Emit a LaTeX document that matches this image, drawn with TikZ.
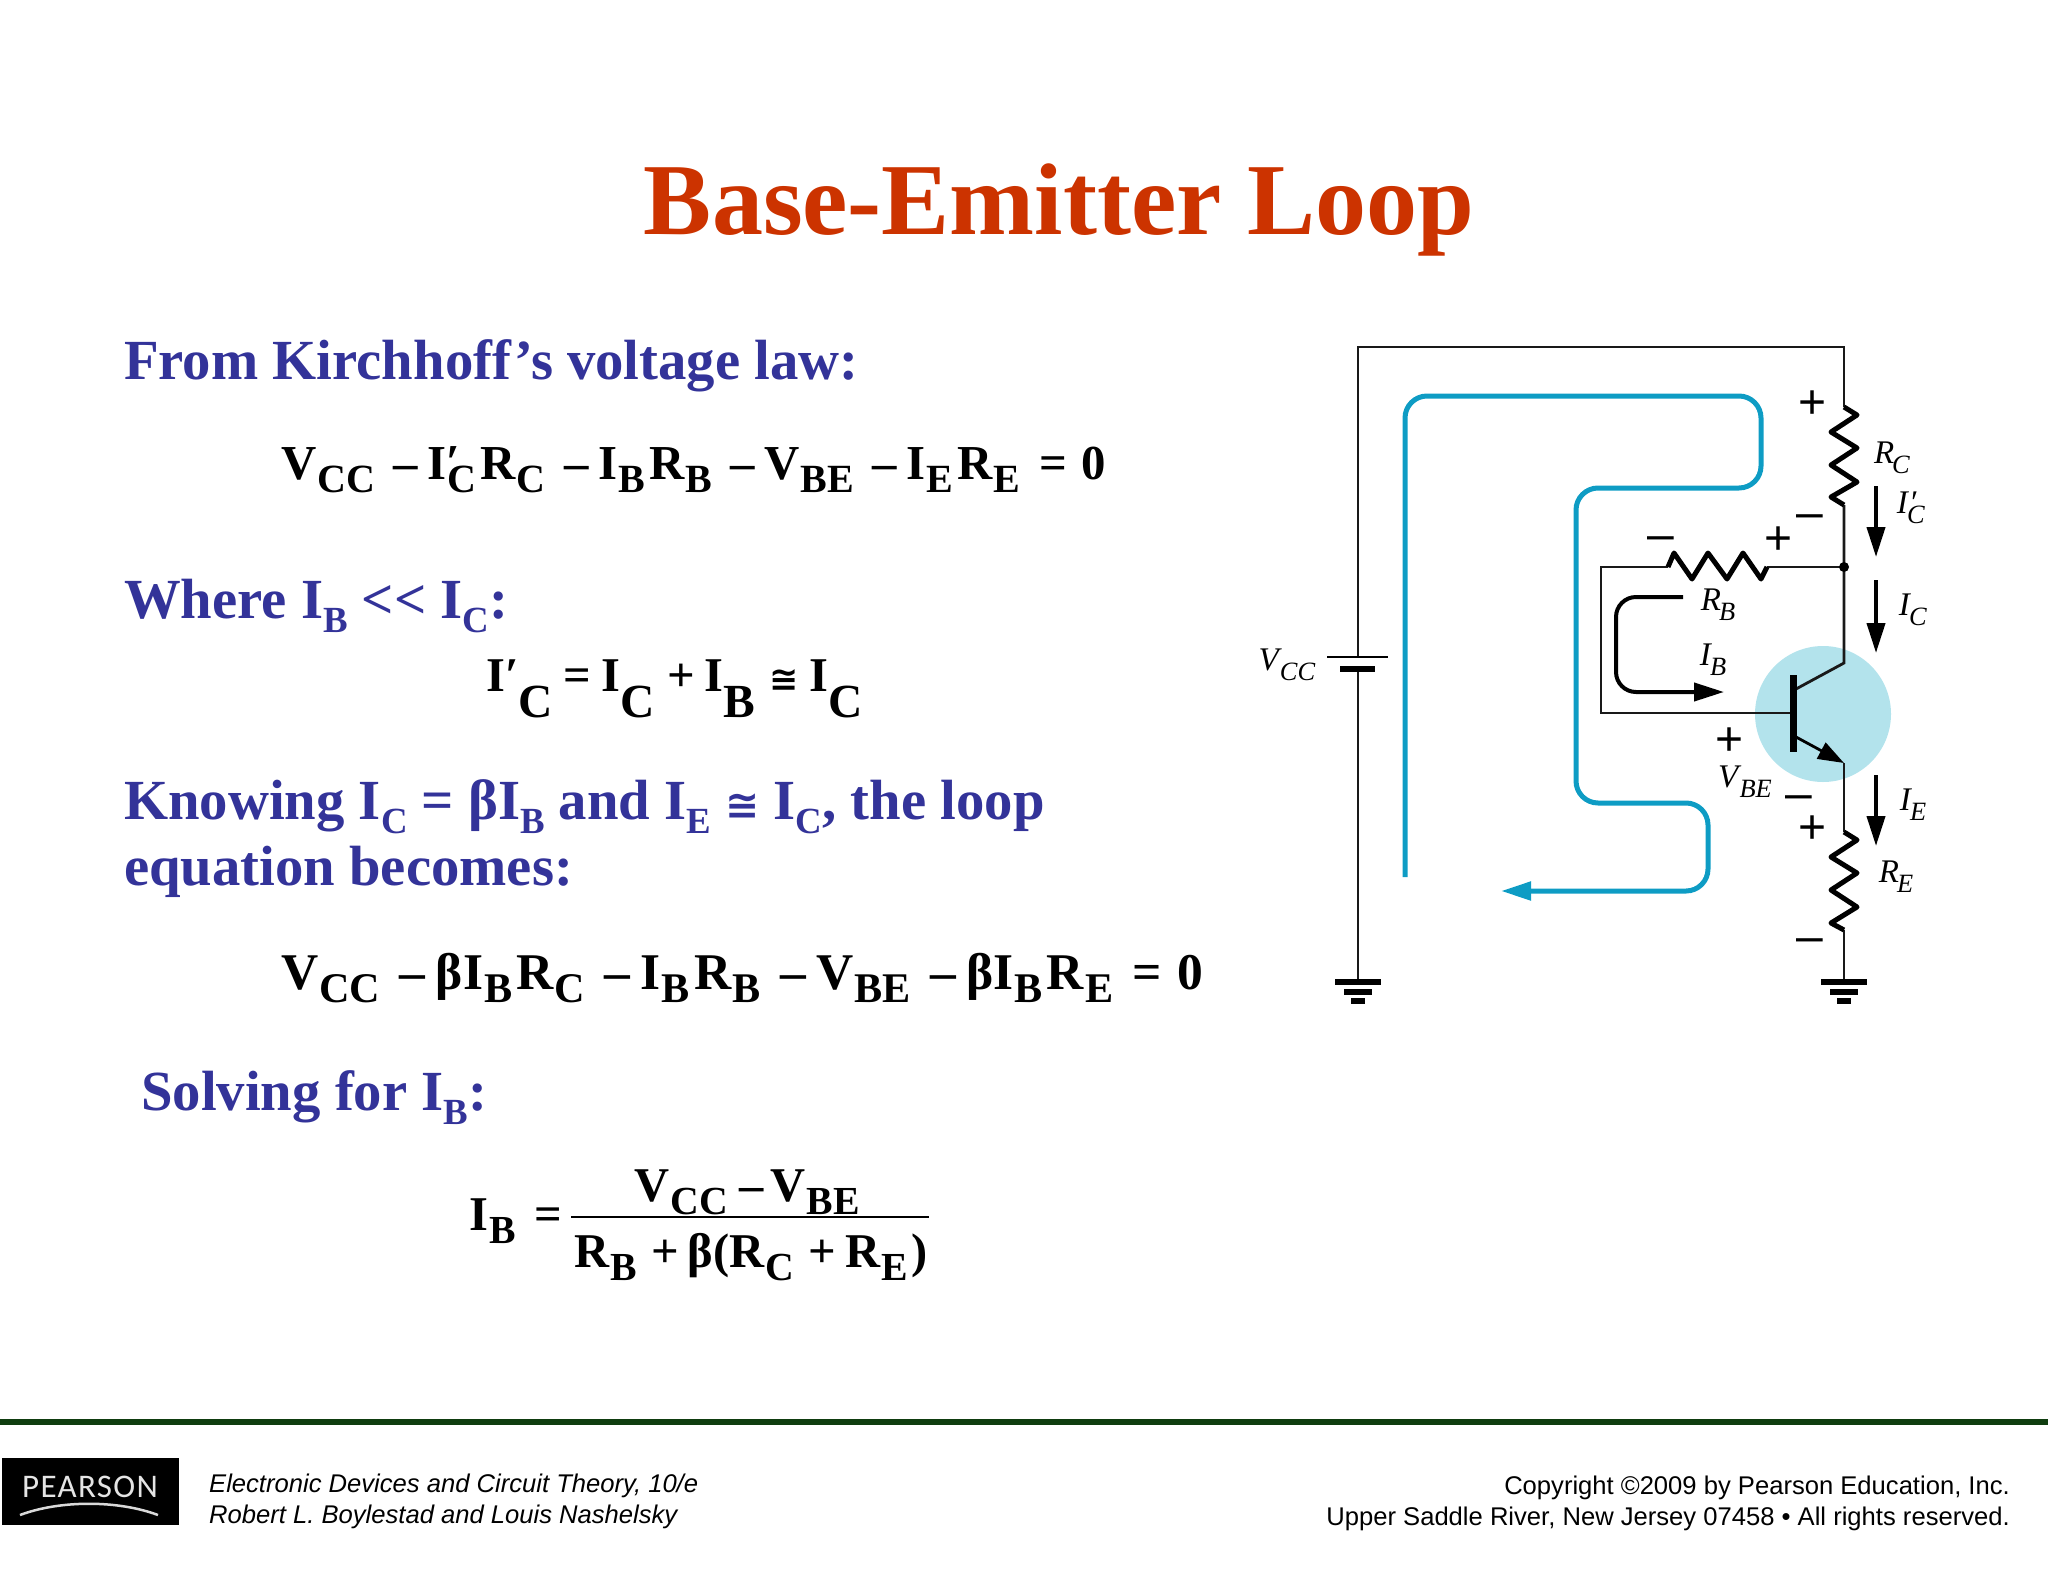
\documentclass[tikz,border=0pt]{standalone}
\usepackage{fontspec}
\setmainfont{Liberation Serif}
\newfontfamily\footfont{Liberation Sans}
\newfontfamily\logofont[LetterSpace=4]{Carlito}
\newfontfamily\relfont{DejaVu Sans}
\usetikzlibrary{arrows.meta}
\definecolor{titlered}{HTML}{CC3300}
\definecolor{headblue}{HTML}{333399}
\definecolor{loopblue}{HTML}{0E9CC4}
\definecolor{discblue}{HTML}{B3E3EC}
\definecolor{rulegreen}{HTML}{0F3D0F}
\newcommand{\dn}[1]{\hspace{.02em}\raisebox{-.27em}{\scalebox{.82}{#1}}\hspace{.08em}}
\newcommand{\dnb}[1]{\raisebox{-.55em}{\scalebox{.98}{#1}}}
\newcommand{\dns}[1]{\raisebox{-.25em}{\scalebox{.65}{#1}}}
\newcommand{\mm}{\hspace{.3em}–\hspace{.2em}}
\newcommand{\pp}{\hspace{.22em}+\hspace{.18em}}
\newcommand{\rel}{{\relfont\scalebox{.72}{≅}}}
\newcommand{\lbl}[2]{\textit{#1}\hspace{-.06em}\raisebox{-.3em}{\scalebox{.8}{\textit{#2}}}}
\newcommand{\psize}[1]{\fontsize{#1}{#1}\selectfont}
\begin{document}
\begin{tikzpicture}[x=1pt,y=-1pt]
            \tikzstyle{head text}=[anchor=base west,inner sep=0,text=headblue,font=\psize{56.7}\bfseries]
            \tikzstyle{eq text}=[anchor=base west,inner sep=0,font=\psize{48.5}\bfseries]
            \tikzstyle{foot text}=[inner sep=0,font=\psize{25.6}\footfont]
            \tikzstyle{sym text}=[inner sep=0,font=\psize{33}]
            \tikzstyle{sign text}=[inner sep=0,font=\psize{48}\footfont]
            \tikzstyle{wire}=[line width=2.8pt,black!90]
            \tikzstyle{res line}=[line width=5pt,line join=round,black]
            \tikzstyle{current}=[line width=4pt,-{Triangle[length=30pt,width=18pt]}]
            \tikzstyle{plate}=[line width=6pt]
            \useasboundingbox (0,0) rectangle (2048,1582);

            \node[anchor=center,inner sep=0,text=titlered,font=\psize{102}\bfseries] (title) at (1059,210) {Base-Emitter Loop};

            \node[head text] (law) at (124,379) {From Kirchhoff’s voltage law:};
            \node[eq text,font=\psize{48.8}\bfseries] (eqa) at (281,479) {V\dn{CC}\mm I\rlap{\raisebox{.02em}{′}}\dn{C}R\dn{C}\mm I\dn{B}R\dn{B}\mm V\dn{BE}\mm I\dn{E}R\dn{E}\hspace{.3em}=\hspace{.3em}0};
            \node[head text] (where) at (124,618) {Where I\dns{B} <{}< I\dns{C}:};
            \node[eq text] (eqb) at (486,691) {I′\dnb{C}\hspace{.22em}=\hspace{.22em}I\dnb{C}\hspace{.25em}+\hspace{.2em}I\dnb{B}\hspace{.3em}\rel\hspace{.22em}I\dnb{C}};
            \node[head text] (know) at (124,819) {Knowing I\dns{C} = βI\dns{B} and I\dns{E} \rel{} I\dns{C}, the loop};
            \node[head text] (becomes) at (124,885) {equation becomes:};
            \node[eq text,font=\psize{51.5}\bfseries] (eqc) at (281,989) {V\dn{CC}\mm βI\dn{B}R\dn{C}\mm I\dn{B}R\dn{B}\mm V\dn{BE}\mm βI\dn{B}R\dn{E}\hspace{.3em}=\hspace{.3em}0};
            \node[head text] (solve) at (141,1110) {Solving for I\dns{B}:};
            \node[eq text] (ib) at (469,1230) {I\dn{B}\hspace{.3em}=};
            \node[eq text,anchor=base] (num) at (747,1201) {V\dn{CC}\hspace{.15em}–\hspace{.15em}V\dn{BE}};
            \node[eq text,anchor=base] (den) at (751,1267) {R\dn{B}\pp β(R\dn{C}\pp R\dn{E})};
            \coordinate (fl) at (571,1217);
            \coordinate (fr) at (929,1217);
            \draw[line width=2pt] (fl) -- (fr);

            \fill[discblue] (1823,714) circle (68);

            \coordinate (tl) at (1358,347);
            \coordinate (tr) at (1844,347);
            \coordinate (bat) at (1358,657);
            \coordinate (batb) at (1358,669);
            \coordinate (gl) at (1358,982);
            \coordinate (rct) at (1844,407);
            \coordinate (rcb) at (1844,505);
            \coordinate (j) at (1844,567);
            \coordinate (rbr) at (1767,567);
            \coordinate (rbl) at (1668,567);
            \coordinate (bl) at (1601,567);
            \coordinate (bb) at (1601,713);
            \coordinate (base) at (1793,713);
            \coordinate (cin) at (1796,689);
            \coordinate (cout) at (1844,663);
            \coordinate (ein) at (1796,737);
            \coordinate (eout) at (1844,763);
            \coordinate (ret) at (1844,832);
            \coordinate (reb) at (1844,930);
            \coordinate (gr) at (1844,982);

            \draw[wire] (bat) -- (tl) -- (tr) -- (rct);
            \draw[wire] (batb) -- (gl);
            \draw[wire] (rcb) -- (j) -- (cout) -- (cin);
            \draw[wire] (j) -- (rbr);
            \draw[wire] (rbl) -- (bl) -- (bb) -- (base);
            \draw[wire,black,-{Triangle[length=26pt,width=18pt]}] (ein) -- (eout);
            \draw[wire] (eout) -- (ret);
            \draw[wire] (reb) -- (gr);
            \fill (j) circle (5);

            \draw[res line] (rct) -- ++(13,8) -- ++(-26,17) -- ++(26,16) -- ++(-26,17) -- ++(26,17) -- ++(-26,15) -- (rcb);
            \draw[res line] (ret) -- ++(13,8) -- ++(-26,17) -- ++(26,16) -- ++(-26,17) -- ++(26,17) -- ++(-26,16) -- (reb);
            \draw[res line] (rbl) -- ++(6,-14) -- ++(18,26) -- ++(16,-26) -- ++(19,26) -- ++(16,-26) -- ++(18,26) -- (rbr);

            \draw[line width=7pt] (1793,675) -- (1793,752);

            \draw[plate,line width=2.5pt] (1327,657) -- (1388,657);
            \draw[plate] (1340,669) -- (1375,669);
            \foreach \gx in {1358,1844} {
                \draw[plate] (\gx-23,982) -- (\gx+23,982);
                \draw[plate] (\gx-14,992) -- (\gx+14,992);
                \draw[plate] (\gx-7,1001) -- (\gx+7,1001);
            }

            \coordinate (ls) at (1405,877);
            \coordinate (le) at (1501,891);
            \draw[line width=5pt,loopblue,rounded corners=22pt,-{Triangle[length=30pt,width=18pt]}] (ls) -- (1405,396) -- (1761,396) -- (1761,488) -- (1576,488) -- (1576,803) -- (1708,803) -- (1708,891) -- (le);

            \coordinate (is) at (1683,597);
            \coordinate (ie) at (1724,692);
            \draw[current,rounded corners=20pt] (is) -- (1616,597) -- (1616,692) -- (ie);
            \coordinate (ica) at (1876,486);
            \coordinate (icb) at (1876,557);
            \coordinate (icc) at (1876,580);
            \coordinate (icd) at (1876,653);
            \coordinate (iea) at (1876,775);
            \coordinate (ieb) at (1876,846);
            \draw[current] (ica) -- (icb);
            \draw[current] (icc) -- (icd);
            \draw[current] (iea) -- (ieb);

            \node[sym text] (vcc) at (1287,665) {\lbl{V}{CC}};
            \node[sym text] (rc) at (1892,458) {\lbl{R}{C}};
            \node[sym text] (icp) at (1911,508) {\textit{I}\rlap{\textit{′}}\lbl{}{C}};
            \node[sym text] (ic) at (1913,610) {\lbl{I}{C}};
            \node[sym text] (rb) at (1718,605) {\lbl{R}{B}};
            \node[sym text] (ibl) at (1713,660) {\lbl{I}{B}};
            \node[sym text] (vbe) at (1745,782) {\lbl{V}{BE}};
            \node[sym text] (ielbl) at (1913,805) {\lbl{I}{E}};
            \node[sym text] (re) at (1896,877) {\lbl{R}{E}};

            \node[sign text] (pa) at (1812,405) {+};
            \node[sign text] (ma) at (1810,522) {–};
            \node[sign text] (pb) at (1778,541) {+};
            \node[sign text] (mb) at (1661,544) {–};
            \node[sign text] (pc) at (1729,742) {+};
            \node[sign text] (mc) at (1799,803) {–};
            \node[sign text] (pd) at (1812,830) {+};
            \node[sign text] (md) at (1810,946) {–};

            \draw[rulegreen,line width=6pt] (0,1422) -- (2048,1422);

            \node[fill=black,minimum width=177pt,minimum height=67pt,inner sep=0] (logo) at (90.5,1491.5) {};
            \node[text=white!90!black,inner sep=0,font=\psize{33}\logofont] (pearson) at (90,1487) {PEARSON};
            \coordinate (sl) at (20,1515);
            \coordinate (sr) at (158,1515);
            \draw[white!85!black,line width=2.5pt] (sl) .. controls (60,1500) and (118,1500) .. (sr);

            \node[foot text,anchor=base west] (book) at (209,1492) {\itshape Electronic Devices and Circuit Theory, 10/e};
            \node[foot text,anchor=base west] (auth) at (209,1523) {\itshape Robert L. Boylestad and Louis Nashelsky};
            \node[foot text,anchor=base east] (copy) at (2010,1494) {Copyright ©2009 by Pearson Education, Inc.};
            \node[foot text,anchor=base east] (addr) at (2010,1525) {Upper Saddle River, New Jersey 07458 • All rights reserved.};
\end{tikzpicture}
\end{document}
